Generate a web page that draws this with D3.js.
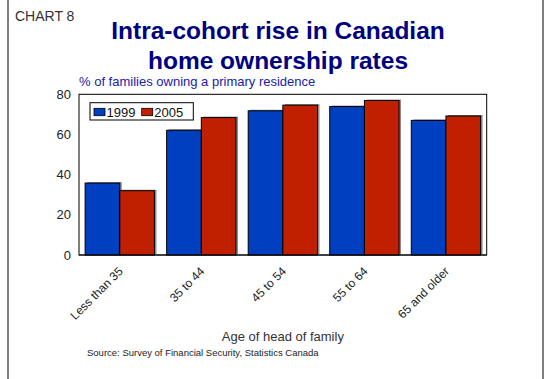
<!DOCTYPE html>
<html>
<head>
<meta charset="utf-8">
<script src="https://cdn.jsdelivr.net/npm/d3@7"></script>
<style>
  html, body { margin: 0; padding: 0; background: #fff; }
  svg { display: block; font-family: "Liberation Sans", Arial, sans-serif; }
</style>
</head>
<body>
<svg id="chart" width="548" height="379"></svg>
<script>
// Home ownership by age of head of family, two survey years
const categories = ["Less than 35", "35 to 44", "45 to 54", "55 to 64", "65 and older"];
const seriesNames = ["1999", "2005"];
const values1999 = [35.8, 62.1, 71.8, 73.9, 67.0];
const values2005 = [32.0, 68.4, 74.6, 76.9, 69.2];
const yTicks = [0, 20, 40, 60, 80];
const colors = ["#0040C0", "#C02000"];

const svg = d3.select("#chart");
const W = 548, H = 379;
const plot = { left: 79, right: 486.7, top: 94.3, bottom: 255 };

// outer side rules of the panel
svg.append("line").attr("x1", 8).attr("x2", 8).attr("y1", 0).attr("y2", H)
  .attr("stroke", "#555").attr("stroke-width", 1.5);
svg.append("line").attr("x1", 543).attr("x2", 543).attr("y1", 0).attr("y2", H)
  .attr("stroke", "#555").attr("stroke-width", 1.5);

svg.append("text").attr("x", 15).attr("y", 21)
  .attr("font-size", 14).attr("fill", "#333").text("CHART 8");

const title = svg.append("text").attr("text-anchor", "middle")
  .attr("font-size", 24.5).attr("font-weight", "bold").attr("fill", "#000080");
title.append("tspan").attr("x", 278).attr("y", 39).text("Intra-cohort rise in Canadian");
title.append("tspan").attr("x", 278).attr("y", 69).text("home ownership rates");

svg.append("text").attr("x", 79).attr("y", 85.5)
  .attr("font-size", 13).attr("fill", "#2020A8")
  .text("% of families owning a primary residence");

const x0 = d3.scaleBand().domain(categories)
  .range([plot.left, plot.right]).paddingInner(0.15).paddingOuter(0.075);
const x1 = d3.scaleBand().domain(seriesNames).range([0, x0.bandwidth()]);
const y = d3.scaleLinear().domain([0, 80]).range([plot.bottom, plot.top]);

const rows = categories.map((c, i) => ({ cat: c, vals: [values1999[i], values2005[i]] }));

// plot frame
svg.append("rect").attr("x", plot.left).attr("y", plot.top)
  .attr("width", plot.right - plot.left).attr("height", plot.bottom - plot.top)
  .attr("fill", "none").attr("stroke", "#000").attr("stroke-width", 1);

const groups = svg.append("g").selectAll("g").data(rows).join("g")
  .attr("transform", d => `translate(${x0(d.cat)},0)`);

// soft drop shadow behind each bar
groups.selectAll("rect.shadow").data(d => d.vals.map((v, k) => ({ v, k })))
  .join("rect").attr("class", "shadow")
  .attr("x", d => x1(seriesNames[d.k]) + 2)
  .attr("y", d => y(d.v) - 1)
  .attr("width", x1.bandwidth())
  .attr("height", d => plot.bottom - y(d.v) + 1)
  .attr("fill", "#8a8a8a");

groups.selectAll("rect.bar").data(d => d.vals.map((v, k) => ({ v, k })))
  .join("rect").attr("class", "bar")
  .attr("x", d => x1(seriesNames[d.k]))
  .attr("y", d => y(d.v))
  .attr("width", x1.bandwidth())
  .attr("height", d => plot.bottom - y(d.v))
  .attr("fill", d => colors[d.k])
  .attr("stroke", "#000").attr("stroke-width", 1);

// y axis
const yAxis = d3.axisLeft(y).tickValues(yTicks).tickSize(0).tickPadding(8);
const gy = svg.append("g").attr("transform", `translate(${plot.left},0)`).call(yAxis);
gy.select(".domain").remove();
gy.selectAll("text").attr("font-size", 13).attr("fill", "#222")
  .attr("font-family", "Liberation Sans, Arial, sans-serif");

// x axis line and rotated category labels
svg.append("line").attr("x1", plot.left).attr("x2", plot.right)
  .attr("y1", plot.bottom).attr("y2", plot.bottom).attr("stroke", "#000");
svg.append("g").selectAll("text").data(categories).join("text")
  .attr("transform", d => `translate(${x0(d) + x0.bandwidth() / 2 + 4},${plot.bottom + 17}) rotate(-45)`)
  .attr("text-anchor", "end").attr("font-size", 12).attr("fill", "#222")
  .text(d => d);

svg.append("text").attr("x", (plot.left + plot.right) / 2).attr("y", 340.5)
  .attr("text-anchor", "middle").attr("font-size", 13).attr("fill", "#333")
  .text("Age of head of family");

svg.append("text").attr("x", 87).attr("y", 356)
  .attr("font-size", 9.5).attr("fill", "#222")
  .text("Source: Survey of Financial Security, Statistics Canada");

// legend
const lg = svg.append("g");
lg.append("rect").attr("x", 90).attr("y", 102.7).attr("width", 103.3).attr("height", 17.3)
  .attr("fill", "#fff").attr("stroke", "#000").attr("stroke-width", 1);
const legendX = [94, 141.7];
seriesNames.forEach((s, k) => {
  lg.append("rect").attr("x", legendX[k]).attr("y", 108.3).attr("width", 11).attr("height", 7.4)
    .attr("fill", colors[k]).attr("stroke", "#000").attr("stroke-width", 0.8);
  lg.append("text").attr("x", legendX[k] + 12.5).attr("y", 116.5)
    .attr("font-size", 13).attr("fill", "#111").text(s);
});
</script>
</body>
</html>
